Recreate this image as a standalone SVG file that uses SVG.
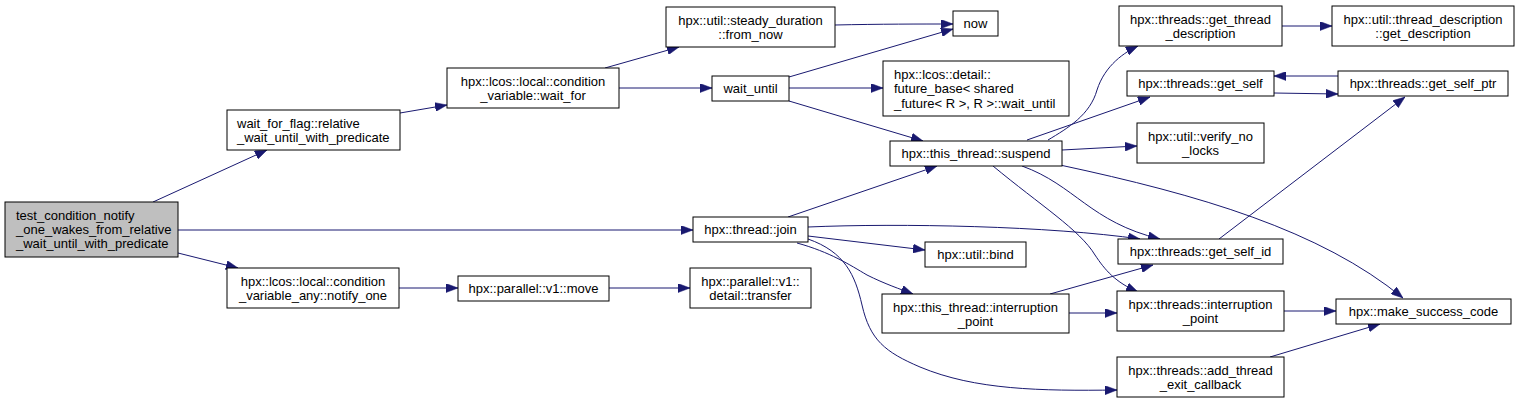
<svg xmlns="http://www.w3.org/2000/svg" width="1520" height="403" viewBox="0 0 1520 403">
<style>
.n rect{fill:#ffffff;stroke:#000000;stroke-width:1}
.root rect{fill:#bfbfbf}
text{font-family:"Liberation Sans",Arial,sans-serif;font-size:13px;fill:#000000}
.c{text-anchor:middle}
.l{text-anchor:start}
#edges path{fill:none;stroke:#191970;stroke-width:1;marker-end:url(#arr)}
</style>
<defs>
<marker id="arr" markerUnits="userSpaceOnUse" markerWidth="12" markerHeight="9" viewBox="0 0 12 9" refX="12" refY="4.5" orient="auto">
<path d="M0,0 L12,4.5 L0,9 z" fill="#191970" stroke="#191970" stroke-width="0.5"/>
</marker>
</defs>
<rect x="0" y="0" width="1520" height="403" fill="#ffffff"/>
<g id="edges">
<path d="M153,202 L267,150"/>
<path d="M178,230 L693,230"/>
<path d="M178,253 L238,268"/>
<path d="M400,113 L447,105"/>
<path d="M605,68 L679,47"/>
<path d="M619,88 L712,88"/>
<path d="M835,25 C880,24 920,24 953,24"/>
<path d="M789,77 L953,29"/>
<path d="M789,88 L883,88"/>
<path d="M789,101 L923,141"/>
<path d="M788,217 L937,166"/>
<path d="M808,227 C900,223 1050,226 1140,239"/>
<path d="M808,236 L925,250"/>
<path d="M797,243 C830,252 850,265 867,275 C885,284 900,289 913,294"/>
<path d="M808,239 C845,252 855,275 862,305 C870,340 885,352 920,367 C975,390 1040,391 1117,390"/>
<path d="M1048,140 C1068,128 1090,115 1097,90 C1105,65 1125,52 1138,46"/>
<path d="M1027,140 L1150,97"/>
<path d="M1062,150 L1137,146"/>
<path d="M1022,166 C1075,185 1090,222 1160,239"/>
<path d="M993,166 C1040,205 1080,230 1095,255 C1105,270 1115,282 1138,292"/>
<path d="M1060,165 C1200,195 1320,230 1403,298"/>
<path d="M1282,26 L1332,26"/>
<path d="M1274,93 L1338,94"/>
<path d="M1338,76 L1274,76"/>
<path d="M1219,239 L1405,97"/>
<path d="M1050,294 L1153,265"/>
<path d="M1069,313 L1117,313"/>
<path d="M1284,311 L1336,311"/>
<path d="M1270,357 L1380,324"/>
<path d="M399,288 L458,288"/>
<path d="M609,288 L690,288"/>
</g>
<g id="root" class="n root"><rect x="5" y="202" width="173" height="55"/><text class="l" x="16" y="220">test_condition_notify</text><text class="l" x="16" y="234">_one_wakes_from_relative</text><text class="l" x="16" y="248">_wait_until_with_predicate</text></g>
<g id="wait_for_flag" class="n"><rect x="227" y="110" width="173" height="40"/><text class="l" x="237" y="128">wait_for_flag::relative</text><text class="l" x="237" y="142">_wait_until_with_predicate</text></g>
<g id="notify_one" class="n"><rect x="227" y="268" width="172" height="40"/><text class="c" x="313" y="286">hpx::lcos::local::condition</text><text class="c" x="313" y="300">_variable_any::notify_one</text></g>
<g id="wait_for" class="n"><rect x="447" y="68" width="172" height="40"/><text class="c" x="533" y="86">hpx::lcos::local::condition</text><text class="c" x="533" y="100">_variable::wait_for</text></g>
<g id="from_now" class="n"><rect x="666" y="7" width="169" height="40"/><text class="c" x="750.5" y="25">hpx::util::steady_duration</text><text class="c" x="750.5" y="39">::from_now</text></g>
<g id="wait_until" class="n"><rect x="712" y="76" width="77" height="25"/><text class="c" x="750.5" y="93">wait_until</text></g>
<g id="join" class="n"><rect x="693" y="217" width="115" height="25"/><text class="c" x="750.5" y="234">hpx::thread::join</text></g>
<g id="transfer" class="n"><rect x="690" y="268" width="121" height="40"/><text class="c" x="750.5" y="286">hpx::parallel::v1::</text><text class="c" x="750.5" y="300">detail::transfer</text></g>
<g id="move" class="n"><rect x="458" y="276" width="151" height="25"/><text class="c" x="533.5" y="293">hpx::parallel::v1::move</text></g>
<g id="now" class="n"><rect x="953" y="11" width="45" height="25"/><text class="c" x="975.5" y="28">now</text></g>
<g id="future_base" class="n"><rect x="883" y="61" width="186" height="55"/><text class="l" x="894" y="79">hpx::lcos::detail::</text><text class="l" x="894" y="93">future_base&lt; shared</text><text class="l" x="894" y="108">_future&lt; R &gt;, R &gt;::wait_until</text></g>
<g id="suspend" class="n"><rect x="890" y="141" width="172" height="25"/><text class="c" x="976" y="158">hpx::this_thread::suspend</text></g>
<g id="bind" class="n"><rect x="925" y="242" width="101" height="25"/><text class="c" x="975.5" y="259">hpx::util::bind</text></g>
<g id="this_thread_interruption_point" class="n"><rect x="882" y="294" width="187" height="39"/><text class="c" x="975.5" y="312">hpx::this_thread::interruption</text><text class="c" x="975.5" y="326">_point</text></g>
<g id="get_thread_description" class="n"><rect x="1119" y="6" width="163" height="40"/><text class="c" x="1200.5" y="24">hpx::threads::get_thread</text><text class="c" x="1200.5" y="38">_description</text></g>
<g id="get_description" class="n"><rect x="1332" y="6" width="182" height="40"/><text class="c" x="1423" y="24">hpx::util::thread_description</text><text class="c" x="1423" y="38">::get_description</text></g>
<g id="get_self" class="n"><rect x="1127" y="71" width="147" height="25"/><text class="c" x="1200.5" y="88">hpx::threads::get_self</text></g>
<g id="get_self_ptr" class="n"><rect x="1338" y="71" width="170" height="25"/><text class="c" x="1423" y="88">hpx::threads::get_self_ptr</text></g>
<g id="verify_no_locks" class="n"><rect x="1137" y="123" width="127" height="40"/><text class="c" x="1200.5" y="141">hpx::util::verify_no</text><text class="c" x="1200.5" y="155">_locks</text></g>
<g id="get_self_id" class="n"><rect x="1118" y="239" width="165" height="25"/><text class="c" x="1200.5" y="256">hpx::threads::get_self_id</text></g>
<g id="threads_interruption_point" class="n"><rect x="1117" y="291" width="167" height="40"/><text class="c" x="1200.5" y="309">hpx::threads::interruption</text><text class="c" x="1200.5" y="323">_point</text></g>
<g id="add_thread_exit_callback" class="n"><rect x="1117" y="357" width="167" height="40"/><text class="c" x="1200.5" y="375">hpx::threads::add_thread</text><text class="c" x="1200.5" y="389">_exit_callback</text></g>
<g id="make_success_code" class="n"><rect x="1336" y="299" width="175" height="25"/><text class="c" x="1423.5" y="316">hpx::make_success_code</text></g>
</svg>
